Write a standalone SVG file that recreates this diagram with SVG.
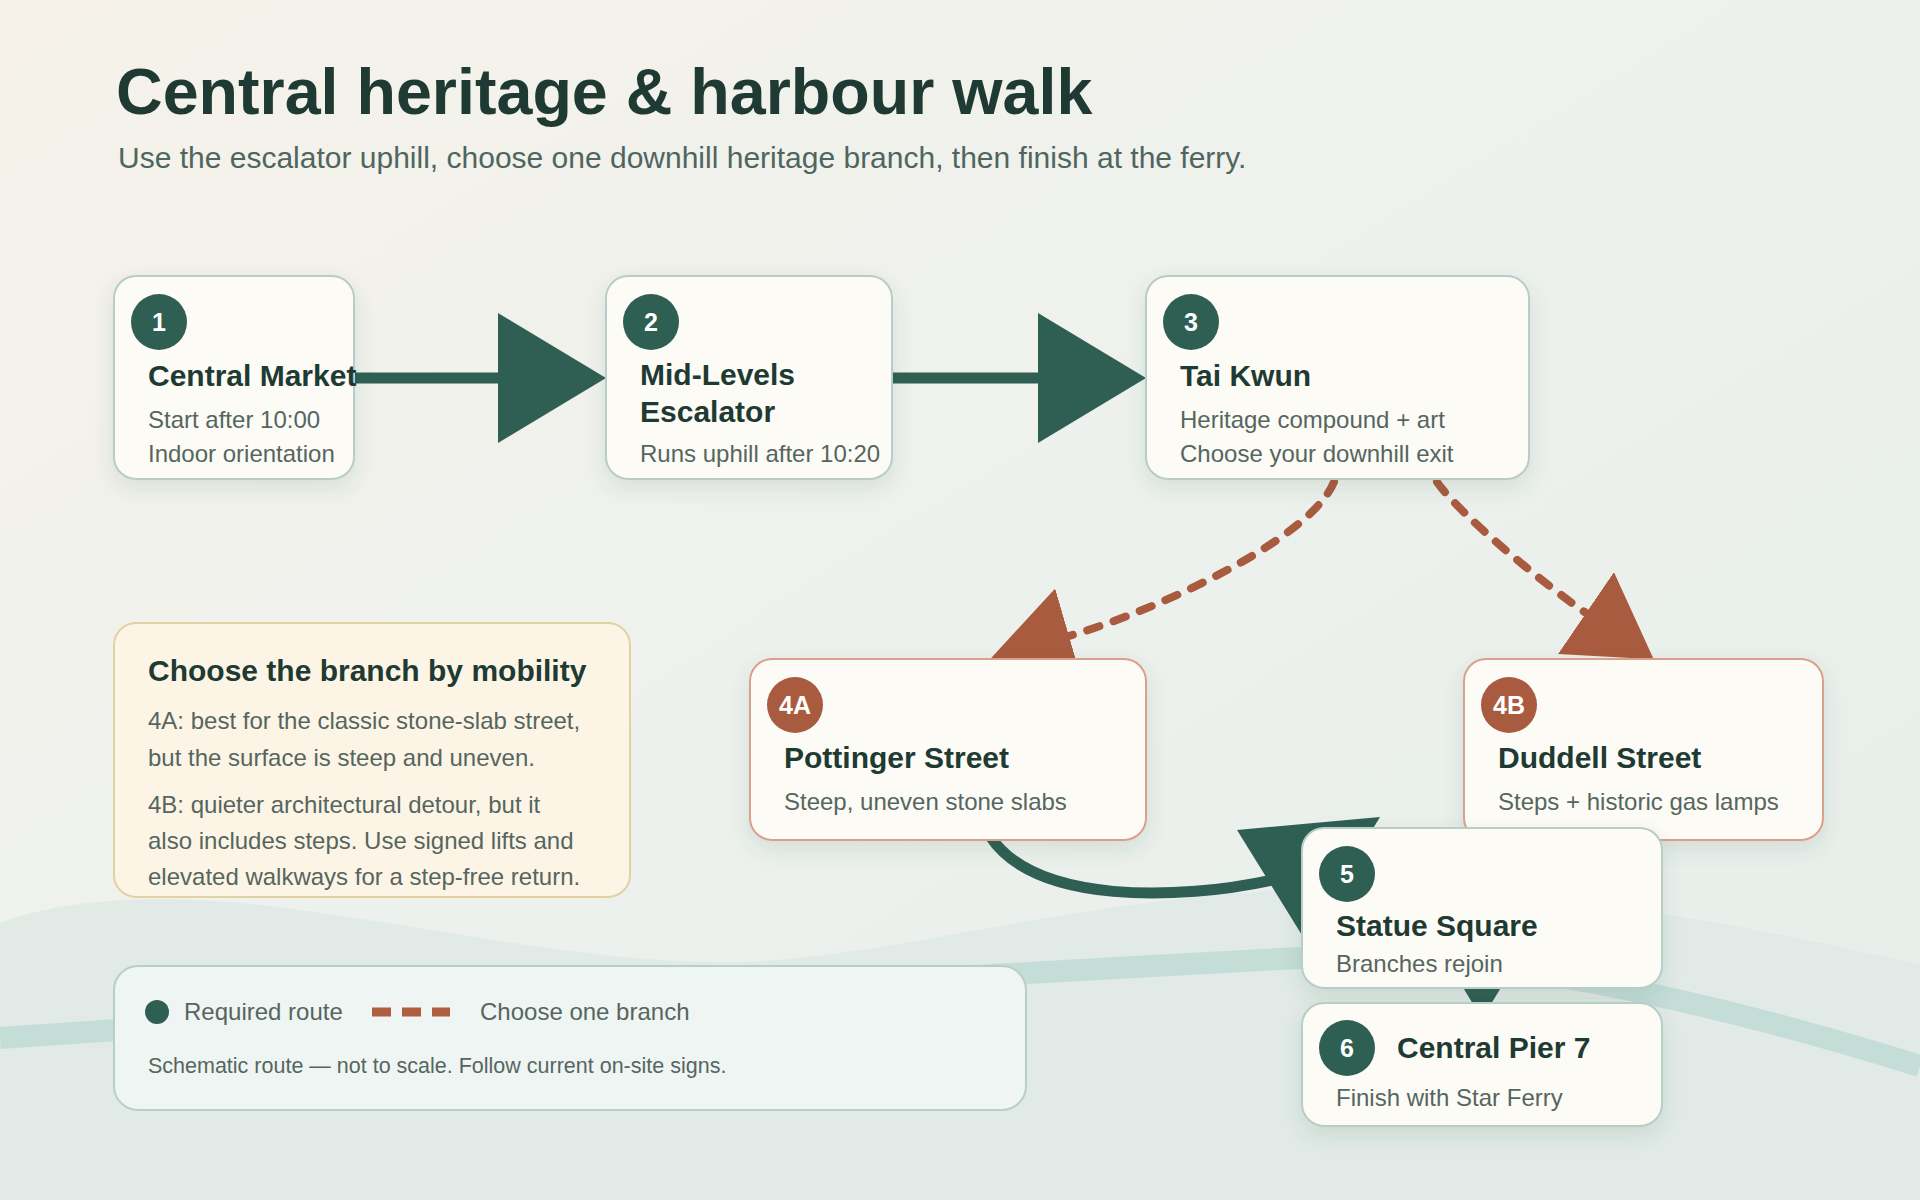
<svg xmlns="http://www.w3.org/2000/svg" width="1920" height="1200" viewBox="0 0 1920 1200">
  <defs>
    <linearGradient id="bg" x1="0" y1="0" x2="1" y2="1">
      <stop offset="0" stop-color="#F6F2EA"/>
      <stop offset="0.5" stop-color="#EDF1ED"/>
      <stop offset="1" stop-color="#E6EEEA"/>
    </linearGradient>
    <filter id="shadow" x="-20%" y="-20%" width="140%" height="150%">
      <feDropShadow dx="0" dy="8" stdDeviation="10" flood-color="#2F5A4F" flood-opacity="0.12"/>
    </filter>
    <marker id="headG" markerUnits="userSpaceOnUse" viewBox="0 0 108 130" markerWidth="108" markerHeight="130" refX="0" refY="65" orient="auto">
      <path d="M0,0 L108,65 L0,130 Z" fill="#2F5F53"/>
    </marker>
    <marker id="headT" markerUnits="userSpaceOnUse" viewBox="0 0 82 99" markerWidth="82" markerHeight="99" refX="0" refY="49.5" orient="auto">
      <path d="M0,0 L82,49.5 L0,99 Z" fill="#A95B3F"/>
    </marker>
    <style>
      .sans { font-family: "Liberation Sans", Arial, Helvetica, sans-serif; }
      .card { fill: #FCFBF6; stroke: #B7CDC5; stroke-width: 2; filter: url(#shadow); }
      .card-alt { fill: #FCFBF6; stroke: #D9A08A; stroke-width: 2; filter: url(#shadow); }
      .badge { fill: #2F5F53; }
      .badge-alt { fill: #A95B3F; }
      .badge-txt { font-family: "Liberation Sans", Arial, sans-serif; font-weight: 700; font-size: 25px; fill: #FFFFFF; text-anchor: middle; }
      .ttl { font-family: "Liberation Sans", Arial, sans-serif; font-weight: 700; font-size: 30px; fill: #1F3A33; }
      .sub { font-family: "Liberation Sans", Arial, sans-serif; font-size: 24px; fill: #56665F; }
      .req { fill: none; stroke: #2F5F53; stroke-width: 11; }
      .opt { fill: none; stroke: #A95B3F; stroke-width: 8; stroke-dasharray: 13 15; stroke-linecap: round; }
    </style>
  </defs>

  <!-- background -->
  <rect x="0" y="0" width="1920" height="1200" fill="url(#bg)"/>
  <path d="M0,923 C60,900 160,890 300,910 C450,930 600,965 740,962 C900,958 1100,890 1350,888 C1550,888 1750,925 1920,965 L1920,1200 L0,1200 Z" fill="#DFE9E5" opacity="0.85"/>
  <path d="M0,1038 Q700,990 1300,958 C1450,950 1650,982 1920,1066" fill="none" stroke="#C4DDD7" stroke-width="22"/>

  <!-- title -->
  <text class="sans" x="116" y="114" font-size="64.6" font-weight="700" fill="#1E3A32">Central heritage &amp; harbour walk</text>
  <text class="sans" x="118" y="168" font-size="30" fill="#4F6660">Use the escalator uphill, choose one downhill heritage branch, then finish at the ferry.</text>

  <!-- connectors -->
  <g id="connectors">
    <path class="req" d="M354,378 L498,378" marker-end="url(#headG)"/>
    <path class="req" d="M892,378 L1038,378" marker-end="url(#headG)"/>
    <path class="opt" d="M1334,482 C1310,540 1155,611 1069,636" marker-end="url(#headT)"/>
    <path class="opt" d="M1437,482 C1460,515 1545,585 1586,613" marker-end="url(#headT)"/>
    <path class="req" d="M990,836 C1035,905 1180,900 1272,880"/>
    <polygon points="1237,830 1380,817 1305,940" fill="#2F5F53"/>
    <path class="req" d="M1482,880 L1482,911" marker-end="url(#headG)"/>
  </g>

  <!-- nodes -->
  <g id="node-1">
    <rect class="card" x="114" y="276" width="240" height="203" rx="22"/>
    <circle class="badge" cx="159" cy="322" r="28"/>
    <text class="badge-txt" x="159" y="331">1</text>
    <text class="ttl" x="148" y="386">Central Market</text>
    <text class="sub" x="148" y="428">Start after 10:00</text>
    <text class="sub" x="148" y="462">Indoor orientation</text>
  </g>
  <g id="node-2">
    <rect class="card" x="606" y="276" width="286" height="203" rx="22"/>
    <circle class="badge" cx="651" cy="322" r="28"/>
    <text class="badge-txt" x="651" y="331">2</text>
    <text class="ttl" x="640" y="385">Mid-Levels</text>
    <text class="ttl" x="640" y="422">Escalator</text>
    <text class="sub" x="640" y="462">Runs uphill after 10:20</text>
  </g>
  <g id="node-3">
    <rect class="card" x="1146" y="276" width="383" height="203" rx="22"/>
    <circle class="badge" cx="1191" cy="322" r="28"/>
    <text class="badge-txt" x="1191" y="331">3</text>
    <text class="ttl" x="1180" y="386">Tai Kwun</text>
    <text class="sub" x="1180" y="428">Heritage compound + art</text>
    <text class="sub" x="1180" y="462">Choose your downhill exit</text>
  </g>
  <g id="node-4a">
    <rect class="card-alt" x="750" y="659" width="396" height="181" rx="22"/>
    <circle class="badge-alt" cx="795" cy="705" r="28"/>
    <text class="badge-txt" x="795" y="714">4A</text>
    <text class="ttl" x="784" y="768">Pottinger Street</text>
    <text class="sub" x="784" y="810">Steep, uneven stone slabs</text>
  </g>
  <g id="node-4b">
    <rect class="card-alt" x="1464" y="659" width="359" height="181" rx="22"/>
    <circle class="badge-alt" cx="1509" cy="705" r="28"/>
    <text class="badge-txt" x="1509" y="714">4B</text>
    <text class="ttl" x="1498" y="768">Duddell Street</text>
    <text class="sub" x="1498" y="810">Steps + historic gas lamps</text>
  </g>
  <g id="node-5">
    <rect class="card" x="1302" y="828" width="360" height="160" rx="22"/>
    <circle class="badge" cx="1347" cy="874" r="28"/>
    <text class="badge-txt" x="1347" y="883">5</text>
    <text class="ttl" x="1336" y="936">Statue Square</text>
    <text class="sub" x="1336" y="972">Branches rejoin</text>
  </g>
  <g id="node-6">
    <rect class="card" x="1302" y="1003" width="360" height="123" rx="22"/>
    <circle class="badge" cx="1347" cy="1048" r="28"/>
    <text class="badge-txt" x="1347" y="1057">6</text>
    <text class="ttl" x="1397" y="1058">Central Pier 7</text>
    <text class="sub" x="1336" y="1106">Finish with Star Ferry</text>
  </g>

  <!-- mobility note -->
  <g id="mobility-note">
    <rect x="114" y="623" width="516" height="274" rx="22" fill="#FCF5E6" stroke="#E3D0A3" stroke-width="2"/>
    <text class="ttl" x="148" y="681">Choose the branch by mobility</text>
    <text class="sub" x="148" y="729">4A: best for the classic stone-slab street,</text>
    <text class="sub" x="148" y="766">but the surface is steep and uneven.</text>
    <text class="sub" x="148" y="813">4B: quieter architectural detour, but it</text>
    <text class="sub" x="148" y="849">also includes steps. Use signed lifts and</text>
    <text class="sub" x="148" y="885">elevated walkways for a step-free return.</text>
  </g>

  <!-- legend -->
  <g id="legend">
    <rect x="114" y="966" width="912" height="144" rx="24" fill="#EEF5F3" stroke="#B8CFC8" stroke-width="2"/>
    <circle cx="157" cy="1012" r="12" fill="#2F5F53"/>
    <text class="sub" x="184" y="1020">Required route</text>
    <path d="M372,1012 L450,1012" stroke="#B05E40" stroke-width="9" stroke-dasharray="19 11" fill="none"/>
    <text class="sub" x="480" y="1020">Choose one branch</text>
    <text class="sans" x="148" y="1073" font-size="21.5" fill="#56665F">Schematic route — not to scale. Follow current on-site signs.</text>
  </g>
</svg>
